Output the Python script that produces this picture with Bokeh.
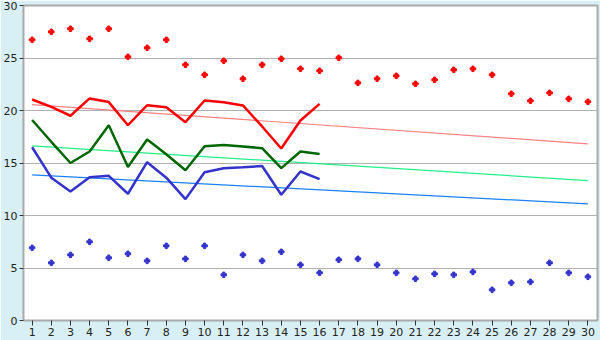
from bokeh.plotting import figure
from bokeh.models import Range1d, FixedTicker
from bokeh.embed import file_html
from bokeh.resources import INLINE

days = list(range(1, 31))
max_pts = [26.73, 27.49, 27.78, 26.83, 27.78, 25.11, 25.97, 26.73, 24.35, 23.40,
           24.73, 23.02, 24.35, 24.92, 23.97, 23.78, 25.02, 22.63, 23.02, 23.30,
           22.54, 22.92, 23.87, 23.97, 23.40, 21.59, 20.92, 21.68, 21.11, 20.83]
min_pts = [6.92, 5.49, 6.25, 7.49, 5.97, 6.35, 5.68, 7.11, 5.87, 7.11,
           4.35, 6.25, 5.68, 6.54, 5.30, 4.54, 5.78, 5.87, 5.30, 4.54,
           3.97, 4.44, 4.35, 4.63, 2.92, 3.59, 3.68, 5.49, 4.54, 4.16]
line_days = list(range(1, 17))
red_line = [21.05, 20.35, 19.50, 21.15, 20.80, 18.60, 20.50, 20.30, 18.89, 20.95,
            20.79, 20.48, 18.48, 16.38, 19.05, 20.63]
green_line = [19.10, 17.02, 15.00, 16.10, 18.60, 14.62, 17.24, 15.83, 14.31, 16.60,
              16.72, 16.58, 16.41, 14.51, 16.10, 15.86]
blue_line = [16.50, 13.60, 12.29, 13.65, 13.78, 12.07, 15.08, 13.60, 11.56, 14.12,
             14.50, 14.60, 14.71, 11.98, 14.19, 13.46]
trend_x = [1, 30]
red_trend = [20.56, 16.83]
green_trend = [16.63, 13.33]
blue_trend = [13.87, 11.11]
y_ticks = [0, 5, 10, 15, 20, 25, 30]

p = figure(frame_width=574, frame_height=315, output_backend="svg", toolbar_location=None,
           x_range=Range1d(0.55, 30.5), y_range=Range1d(0, 30),
           min_border_left=21, min_border_right=5, min_border_top=5, min_border_bottom=20)
p.background_fill_color = "white"
p.border_fill_color = "#d9eff6"
p.outline_line_color = "#aaaaaa"
p.outline_line_width = 2

for ax in (p.xaxis[0], p.yaxis[0]):
    ax.axis_line_color = "#aaaaaa"
    ax.major_tick_line_color = "#333333"
    ax.minor_tick_line_color = None
    ax.major_label_text_font = "DejaVu Sans"
    ax.major_label_text_font_size = "11px"
    ax.major_label_text_color = "#222222"
    ax.major_label_standoff = 2
    ax.major_tick_in = 0
p.xaxis.major_tick_out = 5
p.yaxis.major_tick_out = 4
p.xaxis.ticker = FixedTicker(ticks=days)
p.yaxis.ticker = FixedTicker(ticks=y_ticks)
p.xgrid.grid_line_color = None
p.ygrid.grid_line_color = "#b0b0b0"
p.ygrid.grid_line_width = 1

p.line(trend_x, red_trend, line_color="#ff8080", line_width=1.2)
p.line(trend_x, green_trend, line_color="#22ee88", line_width=1.2)
p.line(trend_x, blue_trend, line_color="#1a80ff", line_width=1.2)

p.line(line_days, red_line, line_color="#ff0000", line_width=2.5)
p.line(line_days, green_line, line_color="#006600", line_width=2.5)
p.line(line_days, blue_line, line_color="#3333cc", line_width=2.5)

p.scatter(days, max_pts, marker="plus", size=5.5, color="#ff0000")
p.scatter(days, min_pts, marker="plus", size=5.5, color="#3333cc")

open("out.html", "w").write(file_html(p, INLINE))
